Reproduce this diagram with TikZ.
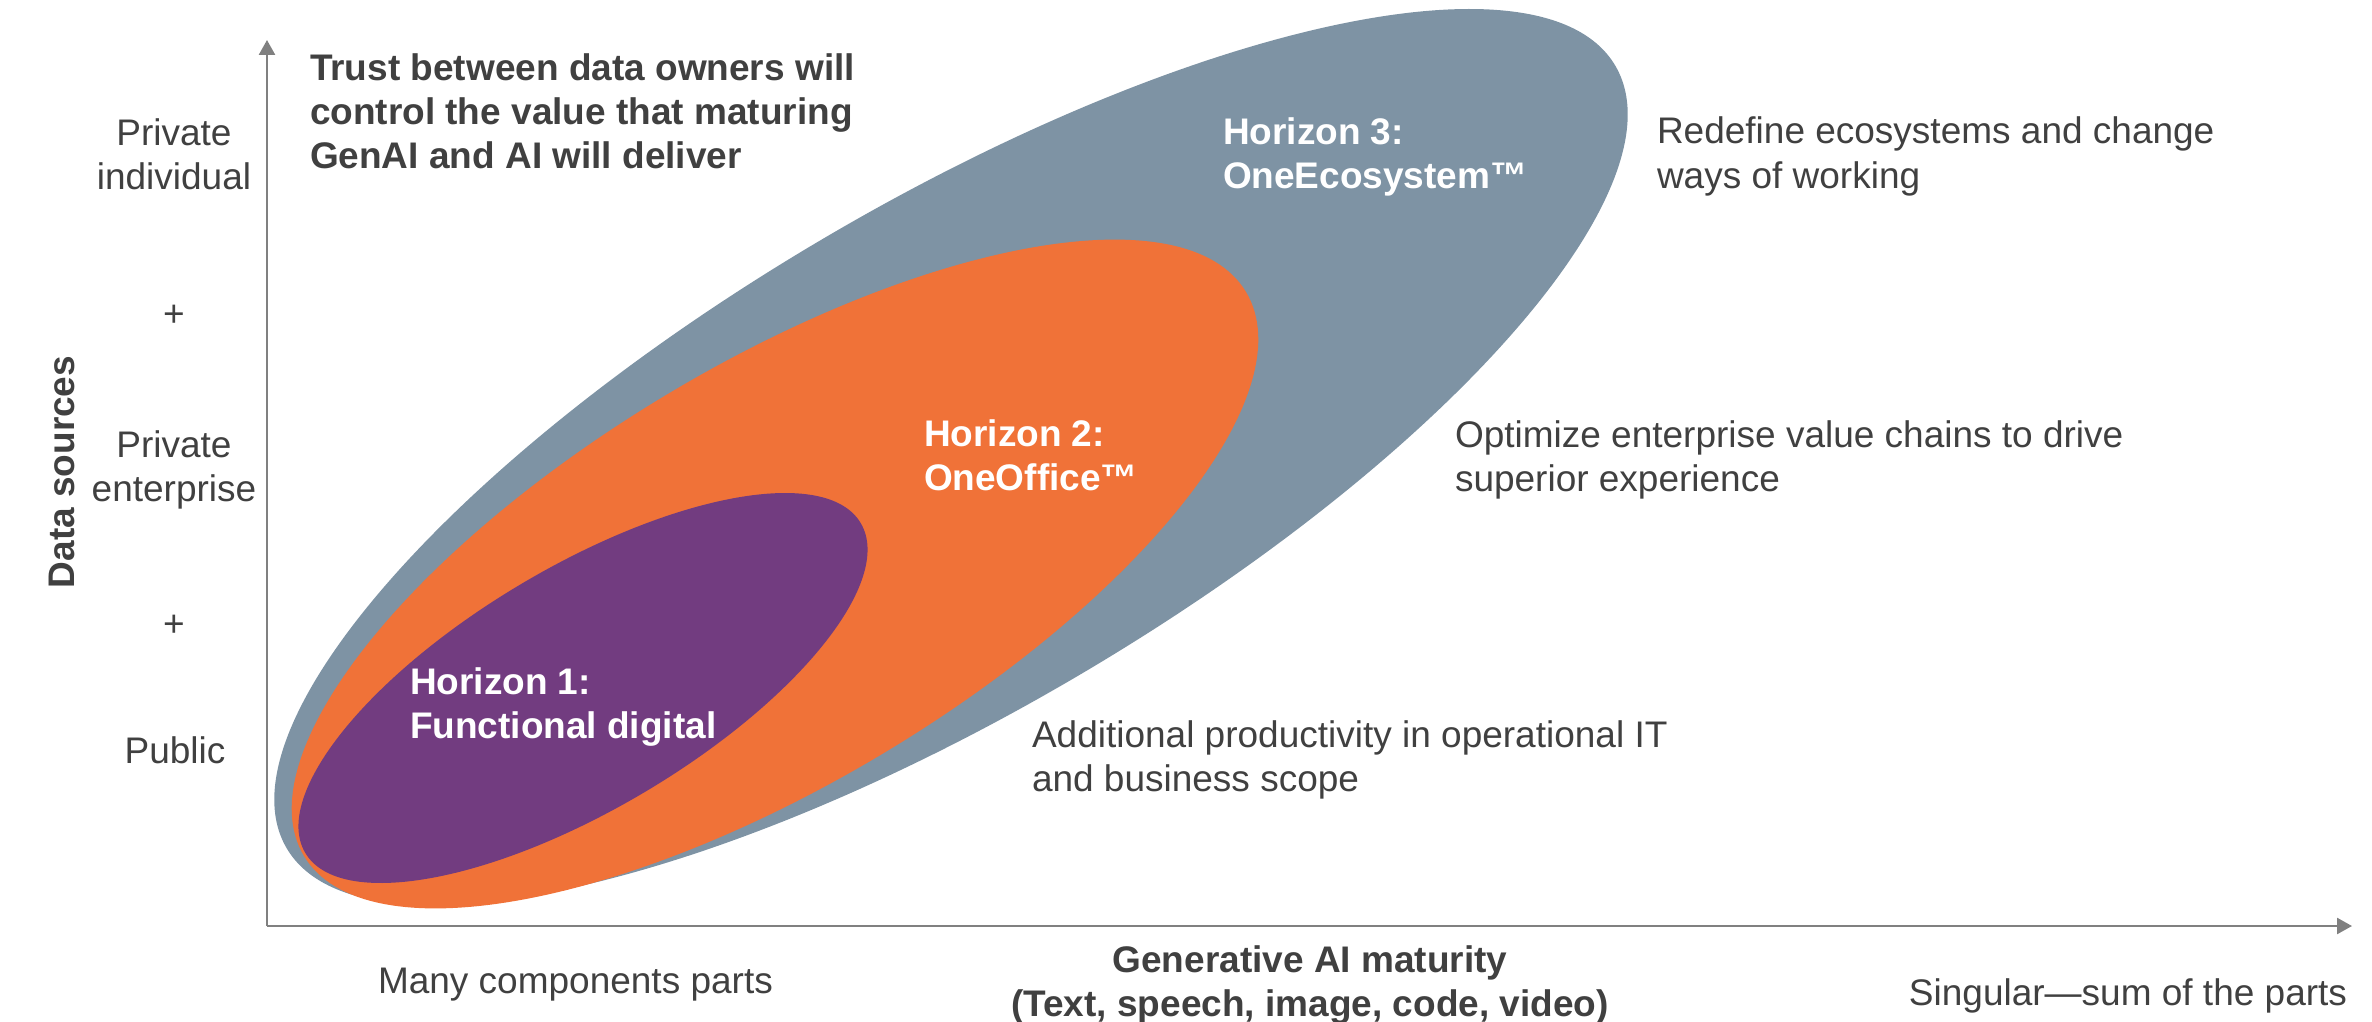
\documentclass[tikz,border=0pt]{standalone}
\usepackage{fontspec}
\setmainfont{Liberation Sans}
\usetikzlibrary{arrows.meta}
\definecolor{hgray}{HTML}{7E93A4}
\definecolor{horange}{HTML}{F07238}
\definecolor{hpurple}{HTML}{723C80}
\definecolor{txt}{HTML}{404040}
\definecolor{axcol}{HTML}{808080}
\newcommand\tlft[1]{\begin{tabular}[t]{@{}l@{}}#1\end{tabular}}
\newcommand\tctr[1]{\begin{tabular}[t]{@{}c@{}}#1\end{tabular}}
\begin{document}
\begin{tikzpicture}[x=1pt,y=1pt,
  every node/.style={inner sep=0pt, outer sep=0pt, font=\fontsize{37}{44}\selectfont, text=txt},
  lbl/.style={anchor=base west},
  clbl/.style={anchor=base},
  bold/.style={font=\fontsize{37}{44}\selectfont\bfseries},
  hlbl/.style={anchor=base west, text=white, font=\fontsize{37}{44}\selectfont\bfseries},
  axisline/.style={draw=axcol, line width=2.5pt, -{Triangle[width=16pt,length=15pt]}}]
\useasboundingbox (0,0) rectangle (2372,-1022);
% ellipses
\fill[hgray, rotate around={30.5:(951,-457)}] (951,-457) ellipse [x radius=771pt, y radius=253pt];
\fill[horange, rotate around={30.9:(775,-574)}] (775,-574) ellipse [x radius=549pt, y radius=209.5pt];
\fill[hpurple, rotate around={30.7:(583,-688)}] (583,-688) ellipse [x radius=323pt, y radius=121pt];
% axes
\coordinate (O) at (267,-926);
\coordinate (Y) at (267,-40);
\coordinate (X) at (2352,-926);
\draw[axisline] (O) -- (Y);
\draw[axisline] (O) -- (X);
% title
\node[lbl, bold] (title) at (310,-81) {\tlft{Trust between data owners will\\control the value that maturing\\GenAI and AI will deliver}};
% horizon labels
\node[hlbl] (h3) at (1223,-145) {\tlft{Horizon 3:\\OneEcosystem™}};
\node[hlbl] (h2) at (924,-446) {\tlft{Horizon 2:\\OneOffice™}};
\node[hlbl] (h1) at (410,-694) {\tlft{Horizon 1:\\Functional digital}};
% descriptions
\node[lbl] (d3) at (1657,-144) {\tlft{Redefine ecosystems and change\\ways of working}};
\node[lbl] (d2) at (1455,-447) {\tlft{Optimize enterprise value chains to drive\\superior experience}};
\node[lbl] (d1) at (1032,-747) {\tlft{Additional productivity in operational IT\\and business scope}};
% y labels
\node[clbl] (yi) at (174,-146) {\tctr{Private\\individual}};
\node[clbl] (p1) at (174,-326) {+};
\node[clbl] (ye) at (174,-457) {\tctr{Private\\enterprise}};
\node[clbl] (p2) at (174,-636) {+};
\node[clbl] (yp) at (175,-763) {Public};
\node[bold, rotate=90] (ds) at (62,-472) {Data sources};
% x labels
\node[lbl] (xl) at (378,-993) {Many components parts};
\node[clbl, bold] (xt) at (1310,-972) {\tctr{Generative AI maturity\\(Text, speech, image, code, video)}};
\node[anchor=base east] (xr) at (2347,-1005) {Singular—sum of the parts};
\end{tikzpicture}
\end{document}
